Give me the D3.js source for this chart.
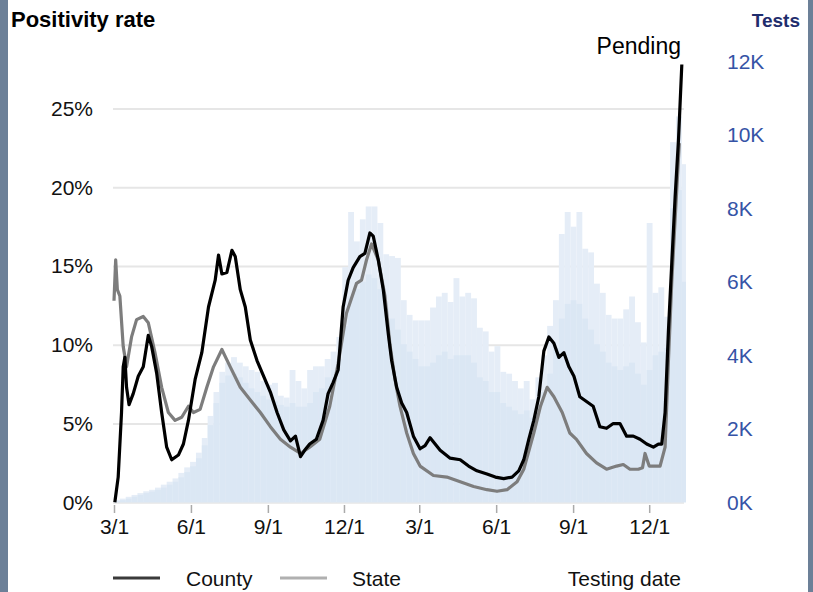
<!DOCTYPE html>
<html><head><meta charset="utf-8">
<script src="https://cdn.jsdelivr.net/npm/d3@7"></script>
<style>
body{margin:0;background:#fff}
svg{display:block}
text{font-family:"Liberation Sans",Arial,sans-serif}
</style>
</head><body>
<svg id="c" width="813" height="592"></svg>
<script>
// ---- data ----
// days since 2020-03-01 and positivity (%)
const countyDays = [1,5,9,11,13,15,18,23,29,35,41,45,51,57,63,69,77,83,89,97,105,113,121,125,129,135,141,145,151,157,163,171,179,187,195,203,211,217,223,228,234,242,250,256,262,268,274,280,286,294,300,306,310,316,322,328,332,338,344,350,358,366,372,378,384,390,402,414,424,434,446,456,466,476,484,490,496,502,508,514,520,526,532,538,544,550,557,565,573,581,589,597,605,613,621,629,637,645,651,655,659,663,667,671,675,679];
const countyPct  = [0,1.6,5.7,8.6,9.2,7.3,6.2,6.9,8.0,8.6,10.6,9.9,8.2,5.7,3.5,2.7,3.0,3.7,5.2,7.8,9.5,12.4,14.1,15.7,14.5,14.6,16.0,15.6,13.5,12.4,10.3,9.0,8.0,7.0,5.7,4.6,3.9,4.2,2.9,3.3,3.7,4.0,5.2,6.9,7.6,8.4,12.4,14.1,14.9,15.6,15.8,17.1,16.9,15.4,13.5,10.7,9.0,7.3,6.3,5.7,4.2,3.4,3.6,4.1,3.7,3.3,2.8,2.7,2.3,2.0,1.8,1.6,1.5,1.6,2.0,2.7,4.0,5.2,6.7,9.6,10.5,10.1,9.2,9.5,8.6,8.0,6.7,6.4,6.1,4.8,4.7,5.0,5.0,4.2,4.2,4.0,3.7,3.5,3.7,3.7,5.7,10.9,15.2,19.4,23.0,27.8];
const stateDays = [0,2,4,7,11,15,21,27,35,41,49,57,65,73,81,89,95,103,111,119,129,139,151,163,175,187,199,211,223,234,246,258,268,278,290,296,302,308,316,324,330,336,342,350,358,366,382,398,414,430,446,458,470,482,490,502,510,518,526,536,545,553,565,577,589,601,609,617,627,632,635,640,653,659,663,667,671,676];
const statePct  = [12.8,15.4,13.5,13.1,9.9,8.6,10.5,11.6,11.8,11.4,9.5,7.3,5.7,5.2,5.4,6.1,5.7,5.9,7.3,8.6,9.7,8.6,7.3,6.5,5.7,4.8,4.0,3.5,3.1,3.5,4.0,6.1,8.8,12.0,13.9,14.1,15.4,16.4,15.4,13.1,10.0,7.8,6.1,4.4,3.1,2.3,1.7,1.6,1.3,1.0,0.8,0.7,0.8,1.3,2.1,4.4,6.1,7.3,6.7,5.7,4.4,4.0,3.1,2.5,2.1,2.3,2.4,2.1,2.1,2.2,3.1,2.3,2.3,3.5,9.0,14.0,18.0,22.8];
// weekly tests starting 2020-03-01: peak days and low days
const testsHigh = [60,100,150,200,250,300,340,400,480,560,650,800,950,1100,1350,1750,2350,3000,3550,3800,3950,3800,3700,3600,3550,3300,3200,3250,2900,2850,3600,3300,3100,3600,3700,3700,3900,4100,4500,6400,7900,7100,7700,8050,8050,7600,6750,6700,6650,5500,5100,4950,4950,4950,5300,5600,5700,5450,6100,5600,5700,5550,4750,4650,4100,4250,3550,3500,3300,3100,3300,2800,3400,4000,4800,5500,7300,7900,7500,7900,6900,6800,5950,5700,5100,5000,5000,5250,5600,4900,4350,7600,5700,5850,5050,9800,10500,9200];
const testsLow  = [30,60,100,150,200,250,290,340,400,480,560,680,820,980,1200,1550,2100,2700,3250,3450,3500,3400,3250,3100,3000,2900,2800,2750,2650,2600,2700,2600,2600,2700,3000,3100,3400,3600,3900,4800,5600,5800,6000,6200,6100,5800,5300,5000,4700,4300,4100,3900,3700,3700,3800,4000,4100,3900,4000,4000,4000,3800,3400,3300,3000,3000,2700,2600,2500,2400,2500,2300,2600,3000,3500,4200,5000,5400,5500,5400,5000,4700,4300,4100,3800,3700,3600,3700,3800,3500,3200,3600,4000,4100,4200,8000,8500,6000];
const xTicks = ["2020-03-01","2020-06-01","2020-09-01","2020-12-01","2021-03-01","2021-06-01","2021-09-01","2021-12-01"];
const pctTicks = [0,5,10,15,20,25];
const testTicks = [0,2000,4000,6000,8000,10000,12000];

// ---- chart ----
const svg = d3.select("#c");
const parse = d3.timeParse("%Y-%m-%d");
const start = parse("2020-03-01");
const end = parse("2022-01-14");
const dayToDate = d => d3.timeDay.offset(start, d);

const x = d3.scaleTime().domain([start, end]).range([114, 686]);
const y = d3.scaleLinear().domain([0, 28]).range([502.3, 61.3]);
const yT = d3.scaleLinear().domain([0, 12000]).range([502.3, 61.3]);

// side borders
svg.append("rect").attr("x",0).attr("y",0).attr("width",8).attr("height",592).attr("fill","#6c8098");
svg.append("rect").attr("x",808).attr("y",0).attr("width",5).attr("height",592).attr("fill","#6c8098");

// gridlines + left axis
const gl = svg.append("g").attr("transform","translate(113,0)")
  .call(d3.axisLeft(y).tickValues(pctTicks).tickFormat(d => d + "%").tickSize(-571).tickPadding(20));
gl.select(".domain").remove();
gl.selectAll(".tick line").attr("stroke","#e6e6e6").attr("stroke-width",2);
gl.selectAll(".tick text").attr("font-size",21).attr("fill","#111").attr("font-family","Liberation Sans, Arial, sans-serif");

// bars
const weekly = testsHigh.map((h,i)=>({i, h, l: testsLow[i]}));
const x0 = d => x(dayToDate(7*d.i));
const x1 = d => Math.min(x(dayToDate(7*d.i+7)), 686);
svg.append("g").selectAll("rect").data(weekly).join("rect")
  .attr("x", x0).attr("width", d => x1(d)-x0(d))
  .attr("y", d => yT(d.h)).attr("height", d => yT(0)-yT(d.h))
  .attr("fill","#e5edf7");
svg.append("g").selectAll("rect").data(weekly).join("rect")
  .attr("x", x0).attr("width", d => x1(d)-x0(d))
  .attr("y", d => yT(d.l)).attr("height", d => yT(0)-yT(d.l))
  .attr("fill","#dbe7f4");

// lines
const line = d3.line().x(d => x(dayToDate(d[0]))).y(d => y(d[1]));
svg.append("path").datum(stateDays.map((d,i)=>[d,statePct[i]]))
  .attr("d", line).attr("fill","none").attr("stroke","#7d7d7d").attr("stroke-width",3.2).attr("stroke-linejoin","round");
svg.append("path").datum(countyDays.map((d,i)=>[d,countyPct[i]]))
  .attr("d", line).attr("fill","none").attr("stroke","#000").attr("stroke-width",3.2).attr("stroke-linejoin","round");

// x axis
const xa = svg.append("g").attr("transform","translate(0,505)")
  .call(d3.axisBottom(x).tickValues(xTicks.map(parse)).tickFormat(d3.timeFormat("%-m/%-d")).tickSize(8).tickPadding(6));
xa.select(".domain").remove();
xa.selectAll(".tick line").attr("stroke","#aaa").attr("stroke-width",1.5);
xa.selectAll(".tick text").attr("font-size",21).attr("fill","#111").attr("font-family","Liberation Sans, Arial, sans-serif");

// right axis
const ra = svg.append("g").attr("transform","translate(720,0)")
  .call(d3.axisRight(yT).tickValues(testTicks).tickFormat(d => (d/1000) + "K").tickSize(0).tickPadding(7));
ra.select(".domain").remove();
ra.selectAll(".tick text").attr("font-size",21).attr("fill","#3553a6").attr("font-family","Liberation Sans, Arial, sans-serif");

// titles
svg.append("text").attr("x",11).attr("y",27).attr("font-size",22).attr("font-weight","bold").attr("fill","#000").text("Positivity rate");
svg.append("text").attr("x",800).attr("y",27).attr("text-anchor","end").attr("font-size",19).attr("font-weight","bold").attr("fill","#1f2d6d").text("Tests");
svg.append("text").attr("x",681).attr("y",54).attr("text-anchor","end").attr("font-size",23).attr("fill","#000").text("Pending");

// legend
svg.append("line").attr("x1",113).attr("x2",160).attr("y1",578).attr("y2",578).attr("stroke","#3a3a3a").attr("stroke-width",3);
svg.append("text").attr("x",186).attr("y",586).attr("font-size",21).attr("fill","#111").text("County");
svg.append("line").attr("x1",280).attr("x2",327).attr("y1",578).attr("y2",578).attr("stroke","#b0b0b0").attr("stroke-width",3);
svg.append("text").attr("x",352).attr("y",586).attr("font-size",21).attr("fill","#111").text("State");
svg.append("text").attr("x",681).attr("y",586).attr("text-anchor","end").attr("font-size",21).attr("fill","#111").text("Testing date");
</script>
</body></html>
